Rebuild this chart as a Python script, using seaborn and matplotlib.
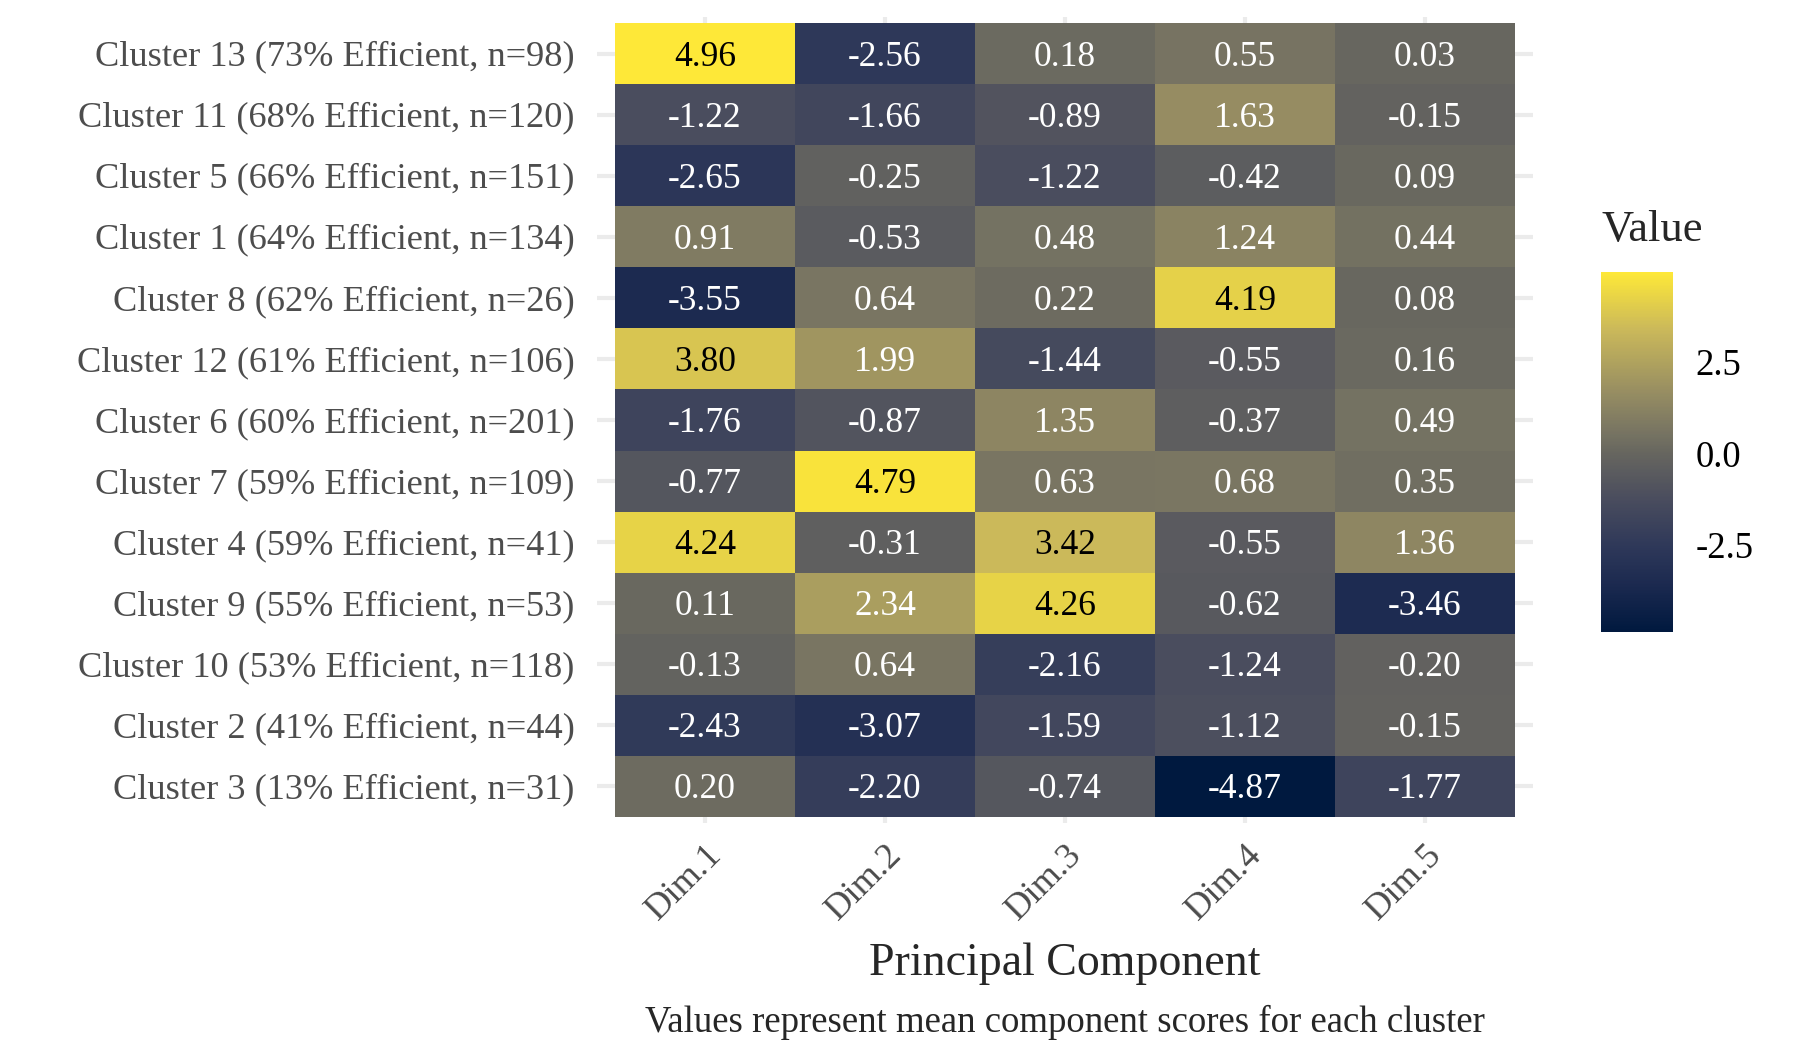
import numpy as np
import matplotlib
matplotlib.use('Agg')
import matplotlib.pyplot as plt
from matplotlib.colors import LinearSegmentedColormap
from matplotlib.transforms import ScaledTranslation
import pandas as pd
import seaborn as sns

sns.set_style('white')
plt.rcParams['font.family'] = ['Liberation Serif', 'DejaVu Serif']
plt.rcParams['axes.unicode_minus'] = False

clusters = ['Cluster 13 (73% Efficient, n=98)', 'Cluster 11 (68% Efficient, n=120)',
            'Cluster 5 (66% Efficient, n=151)', 'Cluster 1 (64% Efficient, n=134)',
            'Cluster 8 (62% Efficient, n=26)', 'Cluster 12 (61% Efficient, n=106)',
            'Cluster 6 (60% Efficient, n=201)', 'Cluster 7 (59% Efficient, n=109)',
            'Cluster 4 (59% Efficient, n=41)', 'Cluster 9 (55% Efficient, n=53)',
            'Cluster 10 (53% Efficient, n=118)', 'Cluster 2 (41% Efficient, n=44)',
            'Cluster 3 (13% Efficient, n=31)']
dims = ['Dim.1', 'Dim.2', 'Dim.3', 'Dim.4', 'Dim.5']

dim1 = [4.96, -1.22, -2.65, 0.91, -3.55, 3.80, -1.76, -0.77, 4.24, 0.11, -0.13, -2.43, 0.20]
dim2 = [-2.56, -1.66, -0.25, -0.53, 0.64, 1.99, -0.87, 4.79, -0.31, 2.34, 0.64, -3.07, -2.20]
dim3 = [0.18, -0.89, -1.22, 0.48, 0.22, -1.44, 1.35, 0.63, 3.42, 4.26, -2.16, -1.59, -0.74]
dim4 = [0.55, 1.63, -0.42, 1.24, 4.19, -0.55, -0.37, 0.68, -0.55, -0.62, -1.24, -1.12, -4.87]
dim5 = [0.03, -0.15, 0.09, 0.44, 0.08, 0.16, 0.49, 0.35, 1.36, -3.46, -0.20, -0.15, -1.77]

df = pd.DataFrame({'Dim.1': dim1, 'Dim.2': dim2, 'Dim.3': dim3,
                   'Dim.4': dim4, 'Dim.5': dim5}, index=clusters)

# cividis-like ramp as rendered in the original (darker middle)
ramp = LinearSegmentedColormap.from_list('civ', [
    (0.0, '#00193f'), (0.134, '#1c2a50'), (0.235, '#2e3859'), (0.371, '#4a4d5e'),
    (0.498, '#67665f'), (0.551, '#767362'), (0.661, '#958c62'), (0.843, '#cbb95a'),
    (1.0, '#fee838')])

fig = plt.figure(figsize=(18, 10.61), dpi=100)
ax = fig.add_axes([0.3317, 0.2243, 0.52, 0.7597])
cax = fig.add_axes([0.8894, 0.4043, 0.04, 0.3393])

sns.heatmap(df, ax=ax, cmap=ramp, annot=True, fmt='.2f', cbar_ax=cax,
            annot_kws={'fontsize': 25.5})

# nudge text down a little, like the original
down = ScaledTranslation(0, -0.035, fig.dpi_scale_trans)

# dark text on the bright cells
for t, v in zip(ax.texts, df.values.flatten()):
    t.set_color('black' if v > 3 else 'white')
    t.set_transform(t.get_transform() + down)

ax.set_xlim(-0.1, 5.1)
ax.set_ylim(13.1, -0.1)
ax.set_axisbelow(True)
ax.grid(True, color='#ebebeb', linewidth=3)
for s in ax.spines.values():
    s.set_visible(False)
ax.tick_params(axis='both', length=0, colors='#4d4d4d', labelsize=26.2)
ax.tick_params(axis='y', pad=16)
ax.tick_params(axis='x', pad=11)
plt.setp(ax.get_xticklabels(), rotation=45, ha='right', rotation_mode='anchor')
plt.setp(ax.get_yticklabels(), rotation=0)
for lab in ax.get_yticklabels():
    lab.set_transform(lab.get_transform() + down)
ax.set_xlabel('')
ax.set_ylabel('')

cbar = ax.collections[0].colorbar
cbar.set_ticks([-2.5, 0, 2.5])
cbar.set_ticklabels(['-2.5', '0.0', '2.5'])
cbar.outline.set_visible(False)
cax.tick_params(direction='in', color='white', left=True, right=True,
                length=11, width=1.2, labelsize=26.5, labelcolor='black', pad=16)

fig.text(1602 / 1800, 1 - 230 / 1061, 'Value', fontsize=32, ha='left', va='center')
fig.text(1065 / 1800, 1 - 964 / 1061, 'Principal Component', fontsize=33,
         ha='center', va='center')
fig.text(1065 / 1800, 1 - 1022 / 1061,
         'Values represent mean component scores for each cluster',
         fontsize=26.5, ha='center', va='center')

fig.savefig('out.png', dpi=100)
